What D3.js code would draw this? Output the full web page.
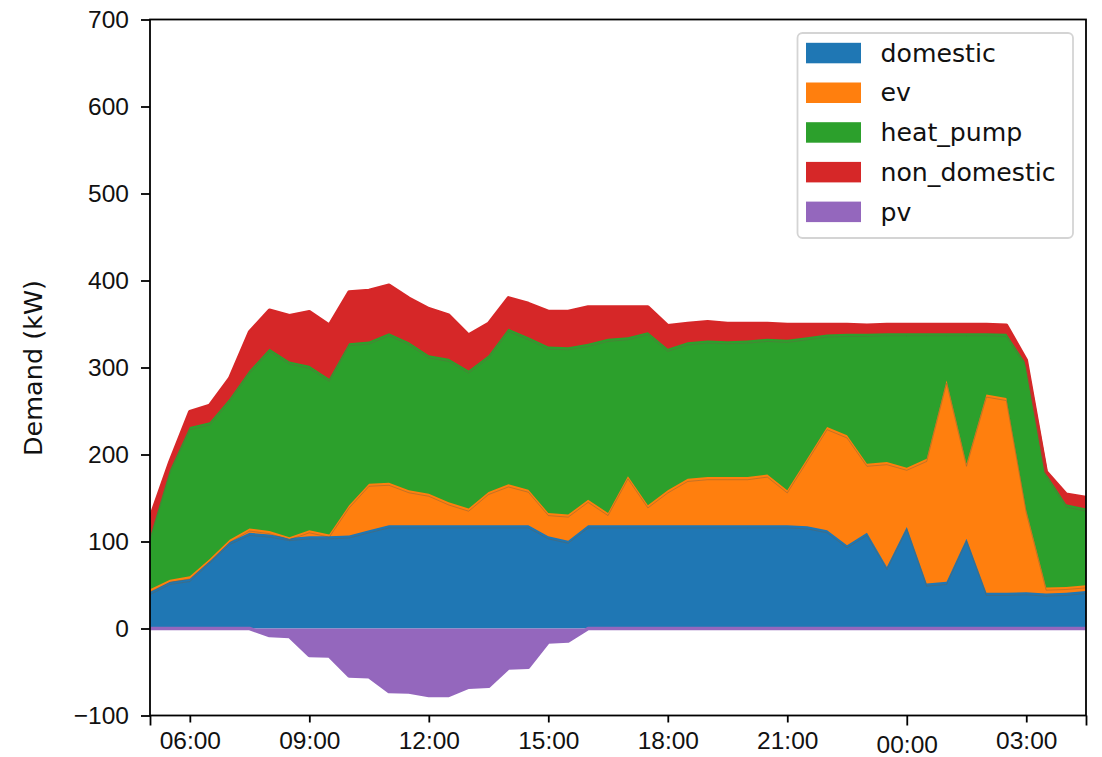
<!DOCTYPE html>
<html>
<head>
<meta charset="utf-8">
<script src="https://cdn.jsdelivr.net/npm/d3@7.9.0/dist/d3.min.js"></script>
<style>
  body { margin: 0; background: #fff; }
  svg { display: block; font-family: 'DejaVu Sans', sans-serif; }
  .axis text { font-size: 24.5px; fill: #111; }
  .axis line { stroke: #000; stroke-width: 1.8; }
  .axis .domain { display: none; }
</style>
</head>
<body>
<svg id="chart" width="1102" height="757"></svg>
<script>
// Half-hourly demand (kW), 05:00 to 04:30 the next morning
const startTime = new Date(2023, 0, 1, 5, 0);

const domestic = [
  42, 53.6, 57, 78, 99.5, 110, 108, 104, 106, 106, 107, 113,
  118.6, 118.6, 118.6, 118.6, 118.6, 118.6, 118.6, 118.6, 106, 101, 118.6, 118.6,
  118.6, 118.6, 118.6, 118.6, 118.6, 118.6, 118.6, 118.6, 118.6, 117.5, 113, 95.7,
  110, 70.8, 116.7, 51.7, 53.6, 103.3, 41, 41, 41.7, 40.2, 41, 43.2
];
const ev = [
  3, 2.4, 3, 2, 2.5, 5, 4, 1, 7, 2, 34.6, 53.5,
  49, 40.4, 36.4, 26.4, 19.2, 38.4, 47.1, 41, 26.8, 30, 29.4, 14.2,
  56.4, 23, 40.2, 53.4, 55.4, 55.4, 55.4, 58.4, 40.2, 77.5, 118.5, 126.3,
  79.4, 120.5, 68.1, 143.3, 231.4, 86.1, 228, 224, 94.3, 6.8, 6.8, 6.5
];
const heatPump = [
  60, 126, 171.5, 157, 162, 181.6, 209.5, 202, 189, 179, 186.4, 163.5,
  171.9, 170, 159, 165, 158.8, 156.8, 178.7, 175.3, 191.2, 192.4, 179.2, 200.2,
  159.9, 199, 162.7, 157, 157, 156.3, 157, 156, 173, 139.9, 106.5, 116.7,
  149.3, 148.2, 154.7, 144.5, 54.5, 150.1, 70.5, 73.7, 168, 131, 94.9, 88.1
];
const nonDomestic = [
  21.5, 9.5, 17.7, 19.5, 23.5, 44.4, 44.4, 52.5, 62, 61.5, 58.9, 58.5,
  55, 50.5, 53.5, 50.2, 40.6, 36.7, 35.7, 38.6, 40.5, 41.1, 42.3, 36.5,
  34.6, 28.9, 26.4, 21.5, 21.5, 20.2, 19.5, 17.5, 17.7, 14.6, 11.5, 10.8,
  10, 10, 10, 10, 10, 10, 10, 10, 4.5, 2.3, 11.6, 12.7
];
const pv = [
  0, 0, 0, 0, 0, 0, -8.1, -9.2, -31, -31.5, -54.5, -55.5,
  -72.5, -73.1, -77, -77, -67.5, -66.5, -45.5, -44.5, -15.5, -14.5, 0, 0,
  0, 0, 0, 0, 0, 0, 0, 0, 0, 0, 0, 0,
  0, 0, 0, 0, 0, 0, 0, 0, 0, 0, 0, 0
];

const seriesNames = ['domestic', 'ev', 'heat_pump', 'non_domestic', 'pv'];
const yTicks = [-100, 0, 100, 200, 300, 400, 500, 600, 700];
const xTickHours = [6, 9, 12, 15, 18, 21, 0, 3];

const colors = ['#1f77b4', '#ff7f0e', '#2ca02c', '#d62728', '#9467bd'];

// Build rows for the stack
const columns = [domestic, ev, heatPump, nonDomestic, pv];
const times = domestic.map((d, i) => d3.timeMinute.offset(startTime, 30 * i));
const rows = times.map((t, i) => {
  const row = { time: t };
  seriesNames.forEach((name, k) => { row[name] = columns[k][i]; });
  return row;
});

const stacked = d3.stack()
  .keys(seriesNames)
  .offset(d3.stackOffsetDiverging)(rows);

// Scales
const plot = { left: 150, right: 1086, top: 19.5, bottom: 715.5 };
const x = d3.scaleTime().domain(d3.extent(times)).range([plot.left, plot.right]);
const y = d3.scaleLinear().domain([-100, 700]).range([plot.bottom, plot.top]);

const svg = d3.select('#chart');

svg.append('clipPath').attr('id', 'clip')
  .append('rect')
  .attr('x', plot.left).attr('y', plot.top)
  .attr('width', plot.right - plot.left).attr('height', plot.bottom - plot.top);

const areaGen = d3.area()
  .x(d => x(d.data.time))
  .y0(d => y(d[0]))
  .y1(d => y(d[1]));

// edge line: top for positive series, bottom for pv
const edgeGen = (s, i) => d3.line()
  .x(d => x(d.data.time))
  .y(d => (seriesNames[i] === 'pv' ? y(d[0]) : y(d[1])));

const marks = svg.append('g').attr('clip-path', 'url(#clip)');

// pandas order: line first, then the fill on top of it
stacked.forEach((s, i) => {
  marks.append('path')
    .datum(s)
    .attr('d', edgeGen(s, i))
    .attr('fill', 'none')
    .attr('stroke', colors[i])
    .attr('stroke-width', 3.5)
    .attr('stroke-linejoin', 'round');
  marks.append('path')
    .datum(s)
    .attr('d', areaGen)
    .attr('fill', colors[i]);
});

// faint seams just under the stacked boundaries
stacked.slice(0, 3).forEach(s => {
  marks.append('path')
    .datum(s)
    .attr('d', d3.line().x(d => x(d.data.time)).y(d => y(d[1]) + 2.6))
    .attr('fill', 'none')
    .attr('stroke', 'rgba(110,95,70,0.45)')
    .attr('stroke-width', 0.9);
});

// Y axis
svg.append('g')
  .attr('class', 'axis')
  .attr('transform', `translate(${plot.left},0)`)
  .call(d3.axisLeft(y).tickValues(yTicks).tickSize(9).tickPadding(12).tickFormat(d3.format('d')));

// X axis: 3-hourly labels, longer ticks at the ends and at midnight
const midnight = new Date(2023, 0, 2, 0, 0);
const labelTimes = xTickHours.map(h => new Date(2023, 0, h < 5 ? 2 : 1, h, 0));
const fmt = d3.timeFormat('%H:%M');

svg.append('g')
  .attr('class', 'axis')
  .attr('transform', `translate(0,${plot.bottom})`)
  .call(d3.axisBottom(x)
    .tickValues(labelTimes.filter(t => +t !== +midnight))
    .tickSize(7).tickPadding(9).tickFormat(fmt));

svg.append('g')
  .attr('class', 'axis')
  .attr('transform', `translate(0,${plot.bottom})`)
  .call(d3.axisBottom(x)
    .tickValues([times[0], midnight, times[times.length - 1]])
    .tickSize(10).tickPadding(10)
    .tickFormat(d => (+d === +midnight ? fmt(d) : '')));

// Frame
svg.append('rect')
  .attr('x', plot.left).attr('y', plot.top)
  .attr('width', plot.right - plot.left).attr('height', plot.bottom - plot.top)
  .attr('fill', 'none').attr('stroke', '#000').attr('stroke-width', 1.8);

// Y label
svg.append('text')
  .attr('transform', 'translate(42,368) rotate(-90)')
  .attr('text-anchor', 'middle')
  .style('font-size', '25.5px')
  .attr('fill', '#111')
  .text('Demand (kW)');

// Legend
const legend = svg.append('g');
legend.append('rect')
  .attr('x', 797.5).attr('y', 33)
  .attr('width', 275.5).attr('height', 205)
  .attr('rx', 5)
  .attr('fill', 'rgba(255,255,255,0.8)')
  .attr('stroke', '#d4d4d4').attr('stroke-width', 1.8);

seriesNames.forEach((name, i) => {
  const cy = 53 + i * 39.7;
  legend.append('rect')
    .attr('x', 806).attr('y', cy - 10.2)
    .attr('width', 55).attr('height', 20.5)
    .attr('fill', colors[i]);
  legend.append('text')
    .attr('x', 880.5).attr('y', cy + 8.7)
    .style('font-size', '25.2px')
    .attr('fill', '#111')
    .text(name);
});
</script>
</body>
</html>
